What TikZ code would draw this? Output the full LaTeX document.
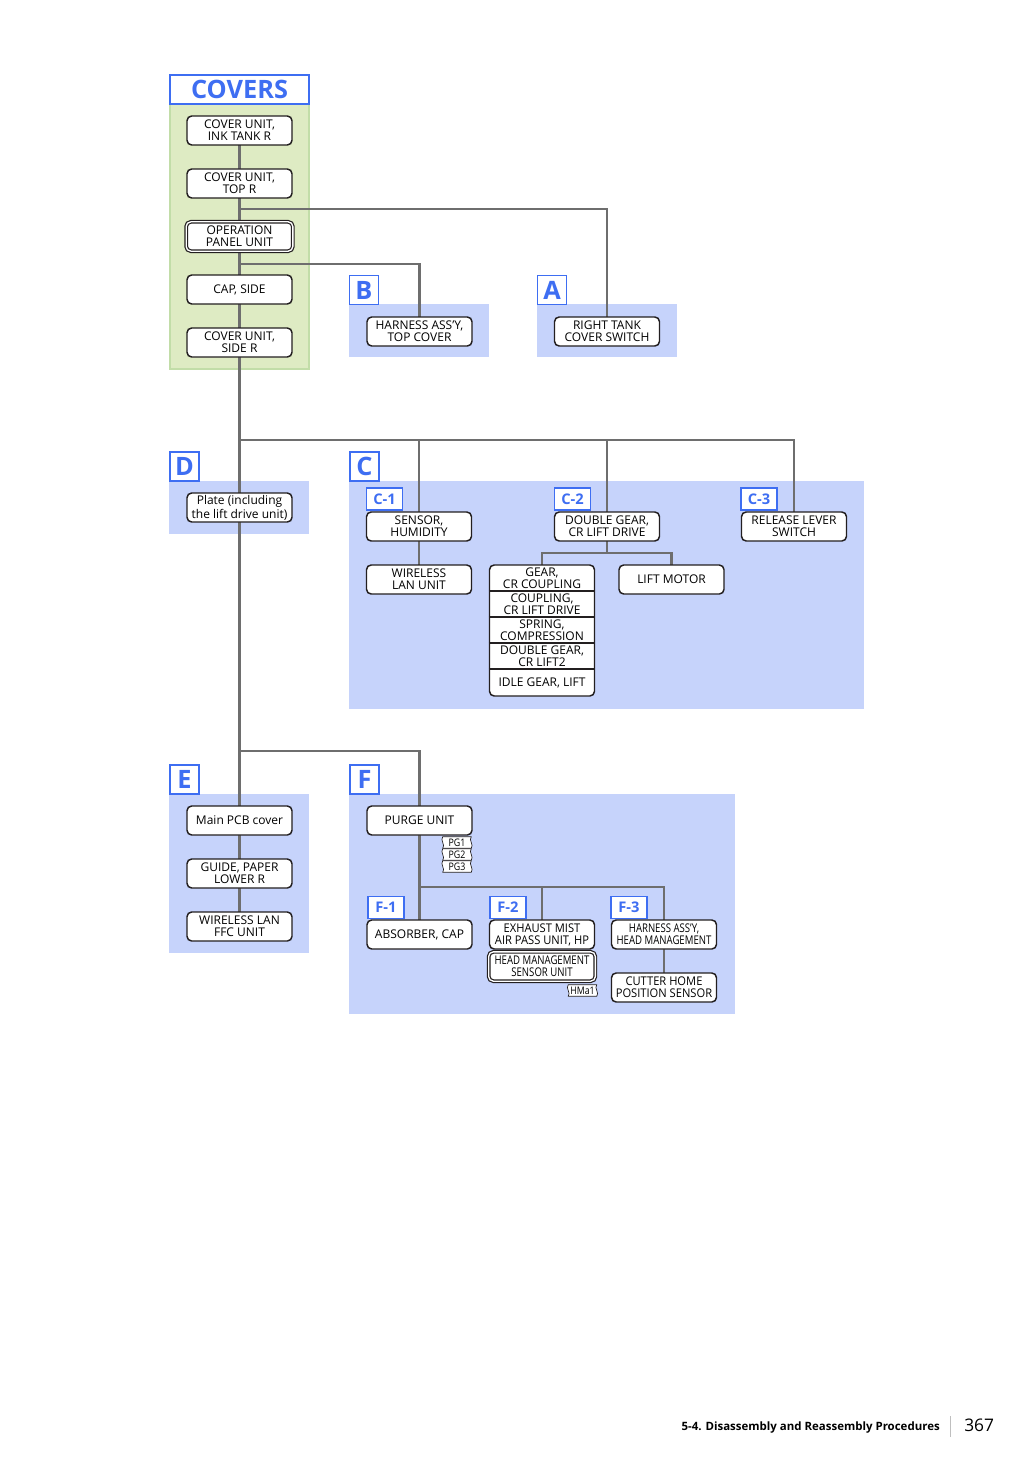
\documentclass[tikz,border=0pt]{standalone}
\usepackage{fontspec}
\usepackage{graphicx}
\setmainfont{Open Sans}
\usetikzlibrary{calc}

\definecolor{regblue}{HTML}{C6D3FB}
\definecolor{labblue}{HTML}{3E6EF2}
\definecolor{reggreen}{HTML}{DEEBC3}
\definecolor{greenedge}{HTML}{C2DDA8}
\definecolor{boxline}{HTML}{231F20}
\definecolor{linegray}{HTML}{6E6E6E}
\definecolor{sepgray}{HTML}{BFBFBF}

\pgfdeclarelayer{regions}
\pgfdeclarelayer{lines}
\pgfsetlayers{regions,lines,main}

\newcommand{\cond}[1]{\scalebox{0.8}[1]{#1}}
\newcommand{\snug}[1]{\scalebox{0.93}[1]{#1}}

\tikzset{
  part/.style={draw=boxline, line width=1.1pt, fill=white, rounded corners=3.5pt,
    minimum width=78.75pt, minimum height=21.75pt, inner sep=0pt, align=center,
    font=\fontsize{9}{9}\selectfont, text depth=0.6pt},
  partdbl/.style={part, double=white, double distance=1pt, line width=0.9pt,
    minimum width=80pt, minimum height=22pt},
  row/.style={minimum width=78.75pt, inner sep=0pt, align=center,
    font=\fontsize{9}{9}\selectfont},
  biglab/.style={draw=labblue, line width=1.3pt, fill=white, text=labblue,
    minimum width=21.75pt, minimum height=21.75pt, inner sep=0pt,
    font=\fontsize{19}{19}\selectfont\bfseries},
  sublab/.style={draw=labblue, line width=1.2pt, fill=white, text=labblue,
    minimum width=27pt, minimum height=16.5pt, inner sep=0pt,
    font=\fontsize{11}{11}\selectfont\bfseries},
  conn/.style={draw=linegray, line width=2.2pt},
  tagtxt/.style={inner sep=0pt, minimum width=21pt, minimum height=8.25pt,
    font=\fontsize{7.8}{7.8}\selectfont},
  tagedge/.style={draw=boxline, line width=0.5pt, fill=white},
}

\begin{document}
\begin{tikzpicture}[x=0.75pt, y=-0.75pt]
\useasboundingbox (0,0) rectangle (1034,1462);

% ---------- coloured group areas ----------
\begin{pgfonlayer}{regions}
  \fill[reggreen, draw=greenedge, line width=0.8pt] (170,104) rectangle (309,369);
  \fill[regblue] (349,304) rectangle (489,357);
  \fill[regblue] (537,304) rectangle (677,357);
  \fill[regblue] (169,481) rectangle (309,534);
  \fill[regblue] (349,481) rectangle (864,709);
  \fill[regblue] (169,794) rectangle (309,953);
  \fill[regblue] (349,794) rectangle (735,1014);
\end{pgfonlayer}

% ---------- group headings ----------
\node[draw=labblue, line width=1.5pt, fill=white, text=labblue,
      minimum width=104.25pt, minimum height=21.75pt, inner sep=0pt,
      font=\fontsize{19}{19}\selectfont\bfseries] (covers) at (239.5,89.5) {COVERS};
\node[biglab] (labB) at (364,290) {B};
\node[biglab] (labA) at (552,290) {A};
\node[biglab] (labD) at (184.5,466.5) {D};
\node[biglab] (labC) at (364.5,466.5) {C};
\node[biglab] (labE) at (184.5,779.5) {E};
\node[biglab] (labF) at (364.5,779.5) {F};
\node[sublab] (labC1) at (384.5,499) {C-1};
\node[sublab] (labC2) at (572.5,499) {C-2};
\node[sublab] (labC3) at (759,499) {C-3};
\node[sublab] (labF1) at (386,907.5) {F-1};
\node[sublab] (labF2) at (508,907.5) {F-2};
\node[sublab] (labF3) at (629,907.5) {F-3};

% ---------- covers column ----------
\node[part] (ink) at (239.5,130.5) {COVER UNIT,\\INK TANK R};
\node[part] (topr) at (239.5,183.5) {COVER UNIT,\\TOP R};
\node[partdbl] (oppanel) at (239.5,236.5) {OPERATION\\PANEL UNIT};
\node[part] (capside) at (239.5,289.5) {CAP, SIDE};
\node[part] (sider) at (239.5,342.5) {COVER UNIT,\\SIDE R};

% ---------- A / B ----------
\node[part] (harness) at (419.5,331.5) {HARNESS ASS'Y,\\TOP COVER};
\node[part] (rtank) at (607,331.5) {RIGHT TANK\\COVER SWITCH};

% ---------- D ----------
\node[part] (plate) at (239.5,507.5) {Plate (including\\the lift drive unit)};

% ---------- C ----------
\node[part] (sensor) at (419,526.5) {SENSOR,\\HUMIDITY};
\node[part] (wlan) at (419,579.5) {WIRELESS\\LAN UNIT};
\node[part] (dgear) at (607,526.5) {DOUBLE GEAR,\\CR LIFT DRIVE};
\node[part] (relsw) at (794,526.5) {RELEASE LEVER\\SWITCH};
\node[part] (lmotor) at (671.5,579.5) {LIFT MOTOR};
\node[part, minimum height=98.25pt] (stack) at (542,630.5) {};
\node[row] (s1) at (542,578.5) {GEAR,\\CR COUPLING};
\node[row] (s2) at (542,604.5) {COUPLING,\\CR LIFT DRIVE};
\node[row] (s3) at (542,630.5) {SPRING,\\COMPRESSION};
\node[row] (s4) at (542,656.5) {DOUBLE GEAR,\\CR LIFT2};
\node[row] (s5) at (542,683) {IDLE GEAR, LIFT};
\foreach \yy in {591,617,643,669}
  \draw[boxline, line width=0.9pt] (stack.west |- 0,\yy) -- (stack.east |- 0,\yy);

% ---------- E ----------
\node[part] (mainpcb) at (239.5,820.5) {Main PCB cover};
\node[part] (guide) at (239.5,873.5) {GUIDE, PAPER\\LOWER R};
\node[part] (wlanffc) at (239.5,926.5) {WIRELESS LAN\\FFC UNIT};

% ---------- F ----------
\node[part] (purge) at (419.5,820.5) {PURGE UNIT};
\node[part] (absorber) at (419.5,934.5) {ABSORBER, CAP};
\node[part] (exhaust) at (542,934.5) {\snug{EXHAUST MIST}\\\snug{AIR PASS UNIT, HP}};
\node[partdbl] (hmsensor) at (542,966.5) {\cond{HEAD MANAGEMENT}\\\cond{SENSOR UNIT}};
\node[part] (hmharness) at (664,934.5) {\cond{HARNESS ASS'Y,}\\\cond{HEAD MANAGEMENT}};
\node[part] (cutter) at (664,987.5) {\snug{CUTTER HOME}\\\snug{POSITION SENSOR}};

% small location tags
\foreach \nm/\cx/\cy/\tx in {pg1/457/842.5/PG1, pg2/457/854.5/PG2, pg3/457/866.5/PG3, hma/582.5/990.5/HMa1}{
  \node[tagtxt] (\nm) at (\cx,\cy) {};
  \draw[tagedge] (\nm.north west) -- (\nm.north east)
    .. controls +(-2.2pt,-2.5pt) and +(2.2pt,2.5pt) .. (\nm.south east)
    -- (\nm.south west)
    .. controls +(2.2pt,2.5pt) and +(-2.2pt,-2.5pt) .. (\nm.north west) -- cycle;
  \node[tagtxt] at (\nm) {\scalebox{0.85}[1]{\tx}};
}

% ---------- connectors ----------
\coordinate (jA) at (239.5,209);
\coordinate (jB) at (239.5,264);
\coordinate (jC) at (239.5,440);
\coordinate (jC2) at (607,553);
\coordinate (jF) at (239.5,751);
\coordinate (jF2) at (419.5,887);
\begin{pgfonlayer}{lines}
  \draw[conn] (ink.center) -- (topr.center) -- (oppanel.center) -- (capside.center)
    -- (sider.center) -- (plate.center) -- (mainpcb.center) -- (guide.center) -- (wlanffc.center);
  \draw[conn] (jA) -| (rtank.center);
  \draw[conn] (jB) -| (harness.center);
  \draw[conn] (jC) -| (relsw.center);
  \draw[conn] (sensor |- jC) -- (wlan.center);
  \draw[conn] (dgear |- jC) -- (dgear.center);
  \draw[conn] (dgear.center) -- (jC2);
  \draw[conn] (stack.center) |- (jC2) -| (lmotor.center);
  \draw[conn] (jF) -| (purge.center);
  \draw[conn] (purge.center) -- (absorber.center);
  \draw[conn] (jF2) -| (hmharness.center);
  \draw[conn] (exhaust |- jF2) -- (exhaust.center);
  \draw[conn] (hmharness.center) -- (cutter.center);
\end{pgfonlayer}

% ---------- page footer ----------
\node[anchor=base east, inner sep=0pt, font=\fontsize{8.6}{8.6}\selectfont\bfseries]
  (foottxt) at (940,1430) {5-4. Disassembly and Reassembly Procedures};
\node[anchor=base west, inner sep=0pt, font=\fontsize{13}{13}\selectfont]
  (pageno) at (964,1431) {367};
\coordinate (sepT) at (950.5,1416);
\coordinate (sepB) at (950.5,1437);
\draw[sepgray, line width=0.8pt] (sepT) -- (sepB);
\end{tikzpicture}
\end{document}
